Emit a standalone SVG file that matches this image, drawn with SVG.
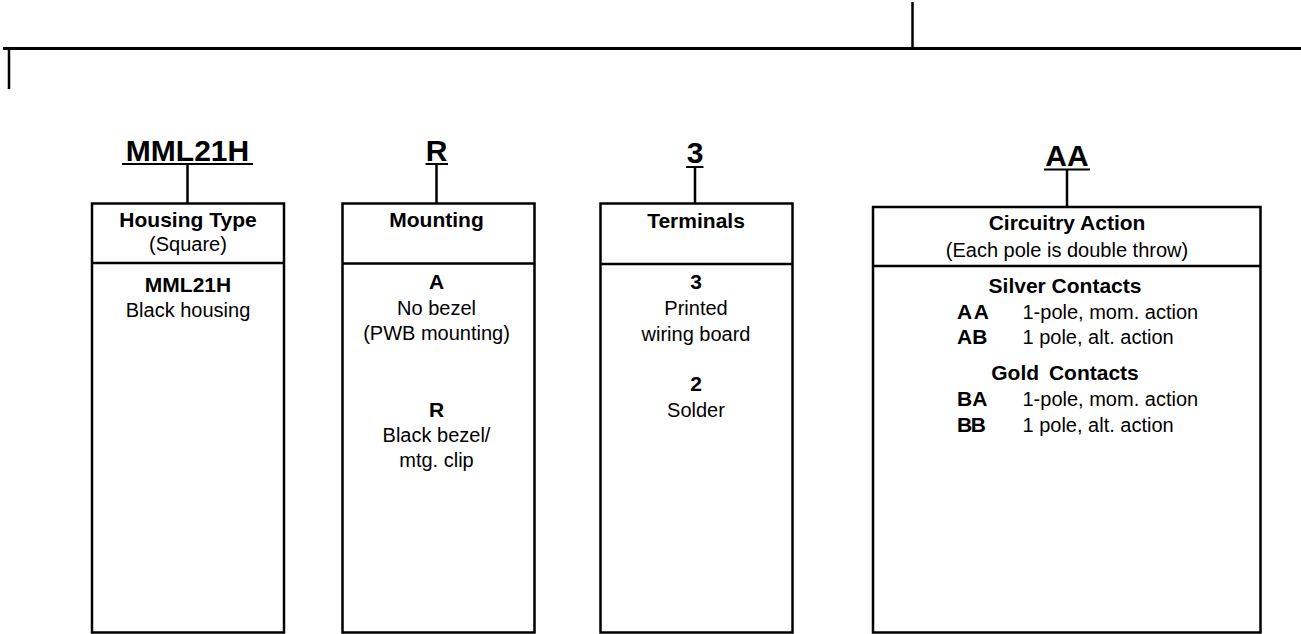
<svg xmlns="http://www.w3.org/2000/svg" width="1301" height="634" viewBox="0 0 1301 634">
<style>
text{font-family:"Liberation Sans",Arial,sans-serif;fill:#000}
.t{font-size:30px;font-weight:bold;text-anchor:middle}
.h{font-size:21px;font-weight:bold;text-anchor:middle}
.b{font-size:21px;font-weight:bold;text-anchor:middle}
.r{font-size:20px;text-anchor:middle}
.bl{font-size:21px;font-weight:bold}
.rl{font-size:20px}
.box{fill:#fff;stroke:#000;stroke-width:2.5}
.ln{stroke:#000;stroke-width:2.5;fill:none}
.ul{stroke:#000;stroke-width:2}
</style>
<g id="connectors">
<line class="ln" x1="3" y1="48.5" x2="1301" y2="48.5" style="stroke-width:3"/>
<line class="ln" x1="9" y1="47" x2="9" y2="89"/>
<line class="ln" x1="912.5" y1="2" x2="912.5" y2="48"/>
<line class="ln" x1="187.5" y1="164" x2="187.5" y2="203"/>
<line class="ln" x1="436.5" y1="164" x2="436.5" y2="203"/>
<line class="ln" x1="695" y1="167" x2="695" y2="203"/>
<line class="ln" x1="1067" y1="170" x2="1067" y2="207"/>
</g>
<g id="title-mml21h">
<text class="t" x="187.5" y="161">MML21H</text>
<line class="ul" x1="122" y1="164" x2="253" y2="164"/>
</g>
<g id="title-r">
<text class="t" x="436.5" y="161">R</text>
<line class="ul" x1="425.5" y1="164" x2="448" y2="164"/>
</g>
<g id="title-3">
<text class="t" x="695" y="163">3</text>
<line class="ul" x1="686" y1="167" x2="703.5" y2="167"/>
</g>
<g id="title-aa">
<text class="t" x="1067" y="166">AA</text>
<line class="ul" x1="1044" y1="169.5" x2="1090" y2="169.5"/>
</g>
<g id="node-housing">
<rect class="box" x="92" y="203.5" width="192" height="429"/>
<line class="ln" x1="92" y1="263" x2="284" y2="263"/>
<text class="h" x="188" y="227">Housing Type</text>
<text class="r" x="188" y="251">(Square)</text>
<text class="b" x="188" y="292">MML21H</text>
<text class="r" x="188" y="317">Black housing</text>
</g>
<g id="node-mounting">
<rect class="box" x="342.5" y="203.5" width="192" height="429"/>
<line class="ln" x1="342.5" y1="263.5" x2="534.5" y2="263.5"/>
<text class="h" x="436.5" y="227">Mounting</text>
<text class="b" x="436.5" y="289">A</text>
<text class="r" x="436.5" y="315">No bezel</text>
<text class="r" x="436.5" y="340">(PWB mounting)</text>
<text class="b" x="436.5" y="416.5">R</text>
<text class="r" x="436.5" y="441.5">Black bezel/</text>
<text class="r" x="436.5" y="466.5">mtg. clip</text>
</g>
<g id="node-terminals">
<rect class="box" x="600.5" y="203.5" width="192" height="429"/>
<line class="ln" x1="600.5" y1="264" x2="792.5" y2="264"/>
<text class="h" x="696" y="228">Terminals</text>
<text class="b" x="696" y="289">3</text>
<text class="r" x="696" y="315">Printed</text>
<text class="r" x="696" y="341">wiring board</text>
<text class="b" x="696" y="391">2</text>
<text class="r" x="696" y="416.5">Solder</text>
</g>
<g id="node-circuitry">
<rect class="box" x="873" y="207" width="387.5" height="425.5"/>
<line class="ln" x1="873" y1="266" x2="1260.5" y2="266"/>
<text class="h" x="1067" y="230">Circuitry Action</text>
<text class="r" x="1067" y="256.5">(Each pole is double throw)</text>
<text class="h" x="1065" y="292.5">Silver Contacts</text>
<text class="bl" x="957" y="318.5" style="letter-spacing:1.5px">AA</text>
<text class="rl" x="1022.5" y="318.5">1-pole, mom. action</text>
<text class="bl" x="957" y="343.5">AB</text>
<text class="rl" x="1022.5" y="343.5">1 pole, alt. action</text>
<text class="h" x="1065" y="380" style="word-spacing:4px">Gold Contacts</text>
<text class="bl" x="957" y="406">BA</text>
<text class="rl" x="1022.5" y="406">1-pole, mom. action</text>
<text class="bl" x="957" y="431.5" style="letter-spacing:-1.5px">BB</text>
<text class="rl" x="1022.5" y="431.5">1 pole, alt. action</text>
</g>
</svg>
